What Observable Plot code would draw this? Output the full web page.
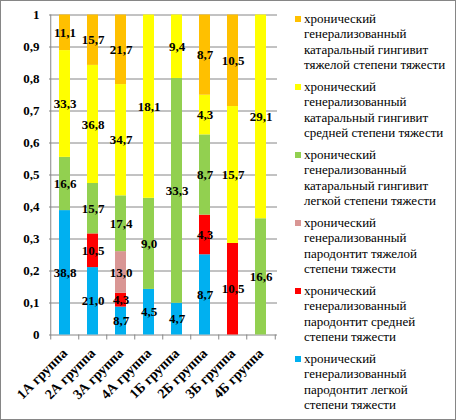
<!DOCTYPE html>
<html><head><meta charset="utf-8">
<script src="https://cdn.jsdelivr.net/npm/d3@7"></script>
<script src="https://cdn.jsdelivr.net/npm/@observablehq/plot@0.6"></script>
<style>
body{margin:0;background:#fff;}
#wrap{position:relative;width:456px;height:420px;font-family:'Liberation Serif',serif;}
#border{position:absolute;left:0;top:0;width:454px;height:418px;border:1px solid #868686;pointer-events:none;}
#legend{position:absolute;left:295px;top:11px;width:160px;font-family:'Liberation Serif',serif;font-size:13px;line-height:15.3px;color:#000;white-space:nowrap;}
.item{position:relative;padding-left:9px;margin-bottom:6.8px;}
.sw{position:absolute;left:0;top:5px;width:6px;height:6px;}
</style></head>
<body><div id="wrap"><div id="border"></div><div id="legend"></div></div>
<script>
const groups = ["1А группа","2А группа","3А группа","4А группа","1Б группа","2Б группа","3Б группа","4Б группа"];
const seriesNames = [
  "хронический генерализованный пародонтит легкой степени тяжести",
  "хронический генерализованный пародонтит средней степени тяжести",
  "хронический генерализованный пародонтит тяжелой степени тяжести",
  "хронический генерализованный катаральный гингивит легкой степени тяжести",
  "хронический генерализованный катаральный гингивит средней степени тяжести",
  "хронический генерализованный катаральный гингивит тяжелой степени тяжести"
];
const legendLines = [
  ["хронический", "генерализованный", "пародонтит легкой", "степени тяжести"],
  ["хронический", "генерализованный", "пародонтит средней", "степени тяжести"],
  ["хронический", "генерализованный", "пародонтит тяжелой", "степени тяжести"],
  ["хронический", "генерализованный", "катаральный гингивит", "легкой степени тяжести"],
  ["хронический", "генерализованный", "катаральный гингивит", "средней степени тяжести"],
  ["хронический", "генерализованный", "катаральный гингивит", "тяжелой степени тяжести"]
];
const seriesColors = ["#00B0F0","#FF0000","#D99694","#92D050","#FFFF00","#FFC000"];
const parodLight  = [38.8, 21.0, 8.7, 4.5, 4.7, 8.7, null, null];
const parodMid    = [null, 10.5, 4.3, null, null, 4.3, 10.5, null];
const parodHeavy  = [null, null, 13.0, null, null, null, null, null];
const gingLight   = [16.6, 15.7, 17.4, 9.0, 33.3, 8.7, null, 16.6];
const gingMid     = [33.3, 36.8, 34.7, 18.1, 9.4, 4.3, 15.7, 29.1];
const gingHeavy   = [11.1, 15.7, 21.7, null, null, 8.7, 10.5, null];
const yTicks = [0,0.1,0.2,0.3,0.4,0.5,0.6,0.7,0.8,0.9,1];

const allSeries = [parodLight, parodMid, parodHeavy, gingLight, gingMid, gingHeavy];
const data = [];
allSeries.forEach((vals, si) => vals.forEach((v, gi) => {
  if (v != null) data.push({group: groups[gi], series: seriesNames[si], value: v});
}));
const fmt = v => v.toFixed(1).replace(".", ",");
const gray = "#868686";
const half = 14.25;
const tickBelow = -5/320;
const ff = "Liberation Serif";

const chart = Plot.plot({
  width: 456, height: 420,
  marginLeft: 49, marginRight: 179, marginTop: 14.5, marginBottom: 85.5,
  style: {fontFamily: ff, fontSize: "13px", background: "transparent"},
  x: {domain: groups, paddingInner: 0.6, paddingOuter: 0.3, label: null},
  y: {domain: [0, 1], label: null},
  color: {domain: seriesNames, range: seriesColors},
  marks: [
    Plot.ruleY(yTicks, {stroke: gray, strokeWidth: 1}),
    Plot.ruleX([groups[0]], {x: d => d, dx: -half, y1: tickBelow, y2: 1, stroke: gray}),
    Plot.ruleX(groups.slice(1), {x: d => d, dx: -half, y1: tickBelow, y2: 0, stroke: gray}),
    Plot.ruleX([groups[groups.length-1]], {x: d => d, dx: half, y1: tickBelow, y2: 0, stroke: gray}),
    Plot.barY(data, Plot.stackY({offset: "normalize", x: "group", y: "value", fill: "series", order: seriesNames})),
    Plot.text(data, Plot.stackY({offset: "normalize", x: "group", y: "value", z: "series", order: seriesNames,
      text: d => fmt(d.value), fontFamily: ff, fontWeight: "bold", fontSize: 13, fill: "#000"})),
    Plot.axisY(yTicks, {tickSize: 0, tickPadding: 10, tickFormat: d => String(d).replace(".", ","), fontFamily: ff, fontWeight: "bold", fontSize: 13, label: null}),
    Plot.axisX({tickSize: 0, tickPadding: 16, tickRotate: -45, fontFamily: ff, fontWeight: "bold", fontSize: 14, label: null})
  ]
});
document.getElementById("wrap").prepend(chart);

const leg = document.getElementById("legend");
for (let i = seriesNames.length - 1; i >= 0; i--) {
  const it = document.createElement("div");
  it.className = "item";
  it.title = seriesNames[i];
  it.innerHTML = `<span class="sw" style="background:${seriesColors[i]}"></span>` + legendLines[i].join("<br>");
  leg.appendChild(it);
}
</script></body></html>
